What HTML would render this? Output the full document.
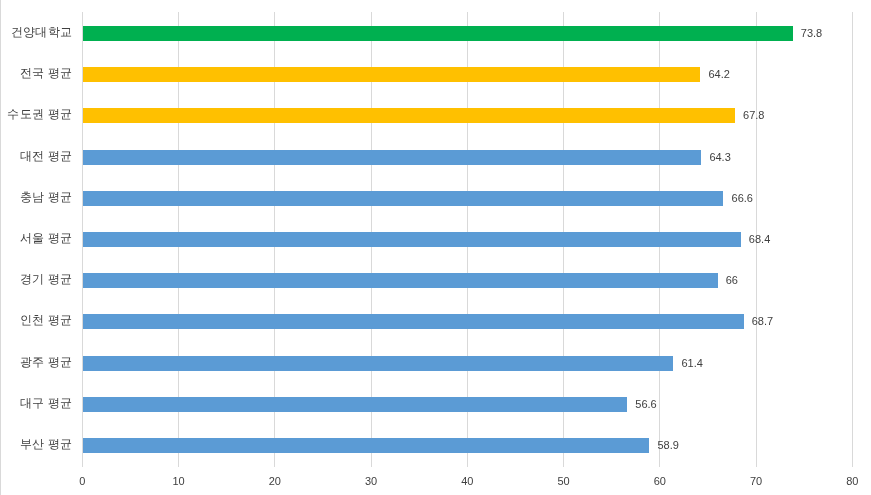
<!DOCTYPE html>
<html><head><meta charset="utf-8"><style>
html,body{margin:0;padding:0;background:#fff;}
body{width:871px;height:495px;position:relative;overflow:hidden;font-family:"Liberation Sans",sans-serif;color:#404040;}
.lb{position:absolute;left:0;top:0;width:1px;height:495px;background:#d9d9d9;}
.g{position:absolute;top:12px;height:455px;width:1px;background:#d9d9d9;}
.b{position:absolute;left:83px;}
.txt{position:absolute;left:0;top:0;width:871px;height:495px;will-change:transform;}
.cl{position:absolute;left:0;width:72px;letter-spacing:0.2px;text-align:right;font-size:12px;line-height:16px;white-space:nowrap;}
.dl{position:absolute;font-size:11px;line-height:16px;white-space:nowrap;}
.ax{position:absolute;top:473px;width:40px;text-align:center;font-size:11px;line-height:16px;}
</style></head><body>
<div class="lb"></div>
<div class="g" style="left:82px"></div>
<div class="g" style="left:178px"></div>
<div class="g" style="left:274px"></div>
<div class="g" style="left:371px"></div>
<div class="g" style="left:467px"></div>
<div class="g" style="left:563px"></div>
<div class="g" style="left:659px"></div>
<div class="g" style="left:756px"></div>
<div class="g" style="left:852px"></div>
<div class="b" style="top:26px;height:15px;width:709.62px;background:#00B050"></div>
<div class="b" style="top:67px;height:15px;width:617.23px;background:#FFC000"></div>
<div class="b" style="top:108px;height:15px;width:651.87px;background:#FFC000"></div>
<div class="b" style="top:150px;height:15px;width:618.19px;background:#5B9BD5"></div>
<div class="b" style="top:191px;height:15px;width:640.32px;background:#5B9BD5"></div>
<div class="b" style="top:232px;height:15px;width:657.65px;background:#5B9BD5"></div>
<div class="b" style="top:273px;height:15px;width:634.55px;background:#5B9BD5"></div>
<div class="b" style="top:314px;height:15px;width:660.54px;background:#5B9BD5"></div>
<div class="b" style="top:356px;height:15px;width:590.27px;background:#5B9BD5"></div>
<div class="b" style="top:397px;height:15px;width:544.07px;background:#5B9BD5"></div>
<div class="b" style="top:438px;height:15px;width:566.21px;background:#5B9BD5"></div>
<div class="txt">
<div class="ax" style="left:62.30px">0</div>
<div class="ax" style="left:158.55px">10</div>
<div class="ax" style="left:254.80px">20</div>
<div class="ax" style="left:351.05px">30</div>
<div class="ax" style="left:447.30px">40</div>
<div class="ax" style="left:543.55px">50</div>
<div class="ax" style="left:639.80px">60</div>
<div class="ax" style="left:736.05px">70</div>
<div class="ax" style="left:832.30px">80</div>
<div class="cl" style="top:23.90px">건양대학교</div>
<div class="dl" style="top:24.90px;left:800.82px">73.8</div>
<div class="cl" style="top:65.10px">전국 평균</div>
<div class="dl" style="top:66.10px;left:708.43px">64.2</div>
<div class="cl" style="top:106.30px">수도권 평균</div>
<div class="dl" style="top:107.30px;left:743.07px">67.8</div>
<div class="cl" style="top:147.50px">대전 평균</div>
<div class="dl" style="top:148.50px;left:709.39px">64.3</div>
<div class="cl" style="top:188.70px">충남 평균</div>
<div class="dl" style="top:189.70px;left:731.52px">66.6</div>
<div class="cl" style="top:229.90px">서울 평균</div>
<div class="dl" style="top:230.90px;left:748.85px">68.4</div>
<div class="cl" style="top:271.10px">경기 평균</div>
<div class="dl" style="top:272.10px;left:725.75px">66</div>
<div class="cl" style="top:312.30px">인천 평균</div>
<div class="dl" style="top:313.30px;left:751.74px">68.7</div>
<div class="cl" style="top:353.50px">광주 평균</div>
<div class="dl" style="top:354.50px;left:681.48px">61.4</div>
<div class="cl" style="top:394.70px">대구 평균</div>
<div class="dl" style="top:395.70px;left:635.27px">56.6</div>
<div class="cl" style="top:435.90px">부산 평균</div>
<div class="dl" style="top:436.90px;left:657.41px">58.9</div>
</div>
</body></html>
